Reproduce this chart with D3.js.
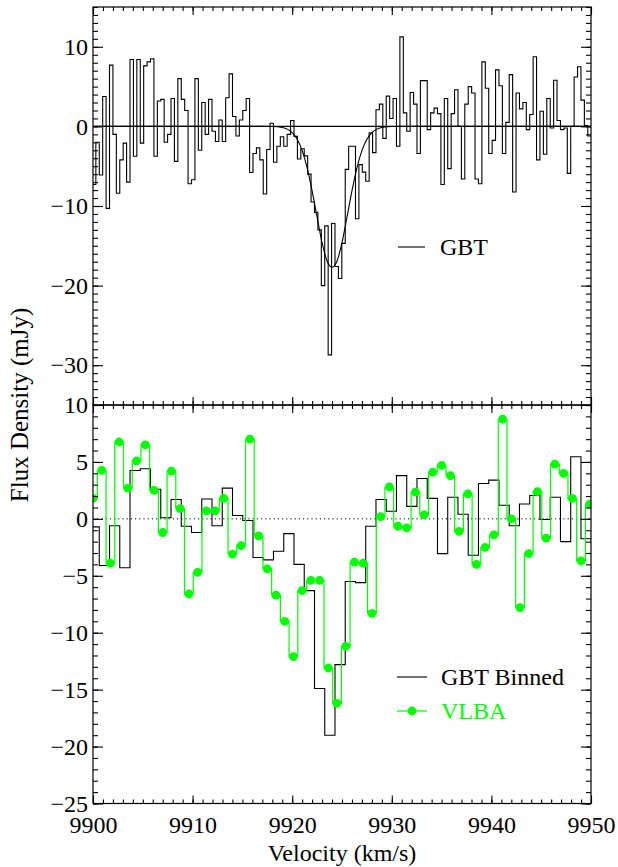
<!DOCTYPE html>
<html>
<head>
<meta charset="utf-8">
<script src="https://cdn.jsdelivr.net/npm/d3@7"></script>
<style>
body { margin: 0; background: #fff; }
svg text { font-family: "Liberation Serif", "Times New Roman", serif; }
</style>
</head>
<body>
<div id="chart"></div>
<script>
// GBT spectrum, one value per channel (mJy)
var chanStart = 9899.6, chanWidth = 0.343;
var gbtFlux = [
  -2, -7.3, -2, -6.1, 3.75, -10.3, 7.7, -1, -8.4, -4.2,
  -2.1, -7, 8.4, -3.75, 8.4, -2.1, 7.6, 8.1, 8.5, -3.75,
  3.2, 3.4, -2, -1.0, 3.5, -4.4, 6.0, 3.4, 2.0, -7.2,
  -6.7, 6.0, -3.0, 3.0, -1.0, 3.4, -0.6, -1.9, 0.8, -1.9,
  3.6, 6.6, 1.25, -1.2, 0.8, 2.0, 3.5, -5.8, -3.4, -2.7,
  -4.2, -8.5, -2.9, 0.4, -4.5, -2.5, -1.3, -2.5, -1, 0.75,
  -1.25, -4.1, -2.8, -3.7, -6, -9.5, -10.8, -13, -20, -12.5,
  -28.7, -12.2, -17.6, -19.1, -14.7, -5.4, -2.5, -2.5, -11.6, -4.8,
  -5.75, -6.9, -0.8, -3.3, 2.1, 2.8, -1.5, 3.8, 1, 3.5,
  -2.5, 11.25, 1.7, -0.6, 4.25, 2.8, -3.4, 5.75, 5.75, -0.4,
  1.7, 2.3, 1.6, -7.3, 3.5, -5.3, 1.6, 4.6, 0, -6.6,
  2.8, 5, 4.2, -6.6, -7.2, 8.1, 4.8, -3.4, -1.75, 7.1,
  5.1, -3.4, 0.5, 6.5, -8.25, 4.2, 2.2, 3, -0.4, 1.5,
  8.75, -4.2, 1.9, -3.5, 3.5, -0.2, 5.8, 0.75, -0.4, -0.2,
  -5.9, 0, 6.2, 7.5, 3.3, 0.1, -1.2
];

// gaussian fit
var fitVel = [9900, 9915, 9917, 9918, 9919, 9920, 9920.5, 9921, 9921.5, 9922, 9922.5, 9923, 9923.5,
  9924, 9924.5, 9925, 9925.5, 9926, 9926.5, 9927, 9927.5, 9928, 9929, 9930, 9932, 9950];
var fitFlux = [0, 0, 0, -0.02, -0.13, -0.78, -1.62, -3.05, -5.2, -8.1, -11.4, -14.6, -16.9,
  -17.7, -16.9, -14.6, -11.4, -8.1, -5.2, -3.05, -1.62, -0.78, -0.13, -0.02, 0, 0];

// GBT binned (3 channels per bin)
var binStart = 9899.6, binWidth = 1.029;
var gbtBinned = [
  -0.7, -4.1, -0.6, -4.3, 4.25, 4.4, 2.6, 0.1, 1.7, -0.65,
  -1.2, 1.75, -0.6, 2.7, 0.3, -0.15, -3.4, -3.6, -2.85, -1.3,
  -4.0, -6.3, -14.9, -19.0, -12.8, -5.5, -5.6, -0.65, 1.7, 0.67,
  3.8, 1.1, 3.55, 1.8, -3.05, 1.9, 0.4, -3.2, 3.1, 3.4,
  1.2, -0.6, 1.3, 2.05, -0.05, 1.9, -2.0, 5.45, -1.75
];

// VLBA spectrum
var vlbaStart = 9900.0, vlbaStep = 0.875;
var vlbaFlux = [
  1.8, 4.25, -3.9, 6.75, 2.7, 5.1, 6.5, 2.5, -1.2, 4.2,
  0.9, -6.6, -4.7, 0.7, 0.7, 1.8, -3.1, -2.35, 7.0, -1.5,
  -4.4, -6.7, -9.0, -12.1, -6.3, -5.4, -5.4, -13.1, -16.2, -11.2,
  -3.8, -3.9, -8.3, 0.2, 2.8, -0.65, -0.8, 2.35, 0.35, 4.1,
  4.7, 3.8, -1.1, 2.2, -4.0, -2.5, -1.4, 8.75, 0, -7.8,
  -3.05, 2.4, -1.7, 4.8, 4.0, 1.8, -3.7, 1.3
];

var xTicks = [9900, 9910, 9920, 9930, 9940, 9950];
var topTicks = [10, 0, -10, -20, -30];
var botTicks = [10, 5, 0, -5, -10, -15, -20, -25];
var xTitle = "Velocity (km/s)";
var yTitle = "Flux Density (mJy)";

(function() {
var width = 618, height = 867;
// plot box edges (pixels)
var pL = 93, pR = 591, pT = 7, pM = 405, pB = 803.5;

var svg = d3.select("#chart").append("svg")
    .attr("width", width)
    .attr("height", height)
    .style("background", "#fff");

var x = d3.scaleLinear().domain([9900, 9950]).range([pL, pR]);
var yTop = d3.scaleLinear().domain([-35, 15]).range([pM, pT]);
var yBot = d3.scaleLinear().domain([-25, 10]).range([pB, pM]);

var fmt = d3.format("d");

svg.append("clipPath").attr("id", "clipTop")
  .append("rect").attr("x", pL).attr("y", pT).attr("width", pR - pL).attr("height", pM - pT);
svg.append("clipPath").attr("id", "clipBot")
  .append("rect").attr("x", pL).attr("y", pM).attr("width", pR - pL).attr("height", pB - pM);

// histogram corners: each bin drawn flat from its left edge to its right edge
function binCorners(values, start, w, yScale) {
  var pts = [];
  values.forEach(function(v, i) {
    pts.push([x(start + i * w), yScale(v)]);
    pts.push([x(start + (i + 1) * w), yScale(v)]);
  });
  return pts;
}

var line = d3.line();

// ---- top panel
var gTop = svg.append("g").attr("clip-path", "url(#clipTop)");

gTop.append("line")
  .attr("x1", x(9900)).attr("x2", x(9950))
  .attr("y1", yTop(0)).attr("y2", yTop(0))
  .attr("stroke", "#000").attr("stroke-width", 1.1);

gTop.append("path")
  .attr("d", line(binCorners(gbtFlux, chanStart, chanWidth, yTop)))
  .attr("fill", "none").attr("stroke", "#000").attr("stroke-width", 1.1);

gTop.append("path")
  .attr("d", d3.line().curve(d3.curveMonotoneX)
    .x(function(d, i) { return x(d); })
    .y(function(d, i) { return yTop(fitFlux[i]); })(fitVel))
  .attr("fill", "none").attr("stroke", "#000").attr("stroke-width", 1.1);

// ---- bottom panel
var gBot = svg.append("g").attr("clip-path", "url(#clipBot)");

gBot.append("line")
  .attr("x1", x(9900)).attr("x2", x(9950))
  .attr("y1", yBot(0)).attr("y2", yBot(0))
  .attr("stroke", "#000").attr("stroke-width", 1)
  .attr("stroke-dasharray", "1.2,3");

gBot.append("path")
  .attr("d", line(binCorners(gbtBinned, binStart, binWidth, yBot)))
  .attr("fill", "none").attr("stroke", "#000").attr("stroke-width", 1.1);

var vlbaPts = vlbaFlux.map(function(v, i) { return [x(vlbaStart + i * vlbaStep), yBot(v)]; });

gBot.append("path")
  .attr("d", d3.line().curve(d3.curveStep)(vlbaPts))
  .attr("fill", "none").attr("stroke", "#00ff00").attr("stroke-width", 1.2);

gBot.selectAll("circle.vlba")
  .data(vlbaPts)
.enter().append("circle")
  .attr("class", "vlba")
  .attr("cx", function(d) { return d[0]; })
  .attr("cy", function(d) { return d[1]; })
  .attr("r", 4.4)
  .attr("fill", "#00ff00");

// ---- axes (IDL style: ticks inside on all four sides)
function styleAxis(g) {
  g.select(".domain").remove();
  g.selectAll(".tick line").attr("stroke", "#000").attr("stroke-width", 1.1);
  g.selectAll("text")
    .attr("fill", "#000")
    .style("font-family", '"Liberation Serif", "Times New Roman", serif')
    .style("font-size", "24px");
}

function xAxes(yPos, axisFn, labels) {
  var major = axisFn(x).tickValues(xTicks).tickSize(-8).tickPadding(12)
    .tickFormat(labels ? fmt : "");
  svg.append("g").attr("transform", "translate(0," + yPos + ")").call(major).call(styleAxis);
  var minor = axisFn(x).tickValues(x.ticks(50)).tickSize(-4).tickFormat("");
  svg.append("g").attr("transform", "translate(0," + yPos + ")").call(minor).call(styleAxis);
}

function yAxes(scale, majors, nMinor) {
  svg.append("g").attr("transform", "translate(" + pL + ",0)")
    .call(d3.axisLeft(scale).tickValues(majors).tickSize(-10).tickPadding(5))
    .call(styleAxis);
  svg.append("g").attr("transform", "translate(" + pL + ",0)")
    .call(d3.axisLeft(scale).tickValues(scale.ticks(nMinor)).tickSize(-5).tickFormat(""))
    .call(styleAxis);
  svg.append("g").attr("transform", "translate(" + pR + ",0)")
    .call(d3.axisRight(scale).tickValues(majors).tickSize(-10).tickFormat(""))
    .call(styleAxis);
  svg.append("g").attr("transform", "translate(" + pR + ",0)")
    .call(d3.axisRight(scale).tickValues(scale.ticks(nMinor)).tickSize(-5).tickFormat(""))
    .call(styleAxis);
}

xAxes(pT, d3.axisTop, false);
xAxes(pM, d3.axisBottom, false);
xAxes(pM, d3.axisTop, false);
xAxes(pB, d3.axisBottom, true);
yAxes(yTop, topTicks, 50);
yAxes(yBot, botTicks, 35);

// frames
[[pT, pM], [pM, pB]].forEach(function(p) {
  svg.append("rect")
    .attr("x", pL).attr("y", p[0])
    .attr("width", pR - pL).attr("height", p[1] - p[0])
    .attr("fill", "none").attr("stroke", "#000").attr("stroke-width", 1.2);
});

// axis titles
svg.append("text")
  .attr("x", (pL + pR) / 2).attr("y", 861)
  .attr("text-anchor", "middle")
  .style("font-size", "24px")
  .text(xTitle);

svg.append("text")
  .attr("transform", "translate(28," + pM + ") rotate(-90)")
  .attr("text-anchor", "middle")
  .style("font-size", "25px")
  .text(yTitle);

// legends
svg.append("line")
  .attr("x1", 398).attr("x2", 425).attr("y1", 247).attr("y2", 247)
  .attr("stroke", "#000").attr("stroke-width", 1.1);
svg.append("text").attr("x", 440).attr("y", 255).style("font-size", "24px").text("GBT");

svg.append("line")
  .attr("x1", 397).attr("x2", 427).attr("y1", 677).attr("y2", 677)
  .attr("stroke", "#000").attr("stroke-width", 1.1);
svg.append("text").attr("x", 441).attr("y", 685).style("font-size", "24px").text("GBT Binned");

svg.append("line")
  .attr("x1", 397).attr("x2", 427).attr("y1", 711).attr("y2", 711)
  .attr("stroke", "#00ff00").attr("stroke-width", 1.2);
svg.append("circle").attr("cx", 412).attr("cy", 711).attr("r", 4.4).attr("fill", "#00ff00");
svg.append("text").attr("x", 441).attr("y", 719).style("font-size", "24px")
  .attr("fill", "#00ff00").text("VLBA");
})();
</script>
</body>
</html>
